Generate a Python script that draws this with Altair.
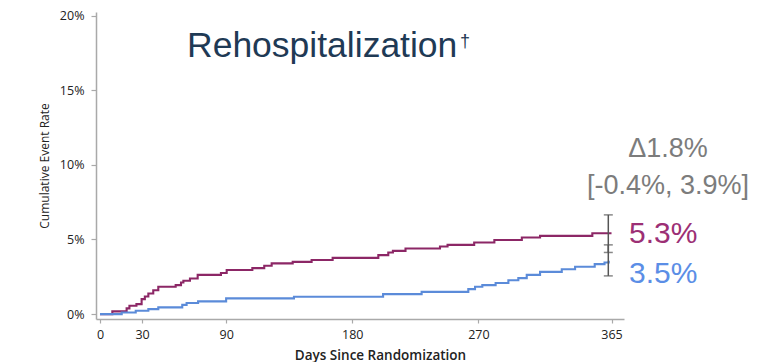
import altair as alt
import pandas as pd

# ---- data ----
purple_days = [0, 8.8, 19, 21, 26, 29.7, 32, 34.5, 38, 41.6, 54, 57.8, 59.5, 64.2, 69.7, 86.3,
               90.4, 108.7, 117.2, 122.5, 137.5, 151, 166, 198.6, 205.7, 209, 218, 242.6, 248,
               267, 281.4, 301, 314, 351.3, 365]
purple_rate = [0, 0.18, 0.38, 0.56, 0.67, 1.0, 1.18, 1.38, 1.6, 1.83, 1.94, 2.12, 2.23, 2.39, 2.63, 2.75,
               2.95, 3.08, 3.24, 3.40, 3.5, 3.63, 3.77, 3.95, 4.13, 4.24, 4.4, 4.53, 4.64,
               4.8, 4.97, 5.13, 5.24, 5.42, 5.42]

blue_days = [0, 15.5, 25.5, 34.5, 41.6, 58.7, 61.8, 70, 90, 138.4, 202, 229.5, 262.8, 267.6, 272.8,
             282.3, 291.4, 298.5, 304.5, 314, 329.5, 339, 353, 360, 363]
blue_rate = [0, 0.11, 0.22, 0.33, 0.45, 0.62, 0.74, 0.85, 1.05, 1.16, 1.34, 1.49, 1.67, 1.83, 1.94,
             2.08, 2.27, 2.41, 2.63, 2.83, 3.01, 3.17, 3.35, 3.46, 3.57]

ci_day = [362.7, 362.7]
ci_lo = [4.13, 2.56]
ci_hi = [6.65, 4.64]
ci_group = ["Purple", "Blue"]

end_labels = ["5.3%", "3.5%"]
end_values = [5.3, 3.5]
end_colors = ["#9c2f75", "#5b8ee6"]

x_ticks = [0, 30, 90, 180, 270, 365]
y_ticks = [0, 5, 10, 15, 20]

title_text = "Rehospitalization"
dagger_text = "\u2020"
delta_text = "\u03941.8%"
ci_text = "[-0.4%, 3.9%]"

# ---- frames ----
curves = pd.concat([
    pd.DataFrame({"day": purple_days, "rate": purple_rate, "arm": "Purple"}),
    pd.DataFrame({"day": blue_days, "rate": blue_rate, "arm": "Blue"}),
])
ci = pd.DataFrame({"day": ci_day, "lo": ci_lo, "hi": ci_hi, "arm": ci_group})
ends = pd.DataFrame({"day": [365, 365], "val": end_values, "label": end_labels, "color": end_colors})

W, H = 528, 307
xs = alt.Scale(domain=[-2.85, 373.9], nice=False, zero=False)
ys = alt.Scale(domain=[-0.33, 20.25], nice=False, zero=False)

AX = dict(domainColor="#a9a9a9", domainWidth=1.5, tickColor="#a9a9a9", tickWidth=1.2,
          labelFont="Open Sans", labelColor="#222222", labelFontSize=12.5, grid=False,
          titleFont="Open Sans", titleColor="#222222")

x_enc = alt.X("day:Q", scale=xs,
              axis=alt.Axis(values=x_ticks, title="Days Since Randomization", tickSize=4,
                            labelPadding=5, titleFontSize=13.5, titleFontWeight=600,
                            titleX=284, titleY=40, titleBaseline="alphabetic", **AX))

lines = alt.Chart(curves).mark_line(interpolate="step-after", strokeWidth=2.1).encode(
    x=x_enc,
    y=alt.Y("rate:Q", scale=ys,
            axis=alt.Axis(values=y_ticks, format=".0f", labelExpr="datum.value + '%'",
                          title="Cumulative Event Rate", tickSize=5, labelPadding=7,
                          titleFontSize=12, titleFontWeight="normal", titlePadding=8, **AX)),
    color=alt.Color("arm:N", scale=alt.Scale(domain=["Purple", "Blue"], range=["#8c2766", "#5b8bd9"]),
                    legend=None),
    detail="arm:N",
)

rules = alt.Chart(ci).mark_rule(color="#555555", strokeWidth=1.5).encode(
    x=alt.X("day:Q", scale=xs), y=alt.Y("lo:Q", scale=ys), y2="hi:Q")
caps_lo = alt.Chart(ci).mark_tick(color="#555555", orient="horizontal", size=9, thickness=1.5).encode(
    x=alt.X("day:Q", scale=xs), y=alt.Y("lo:Q", scale=ys))
caps_hi = alt.Chart(ci).mark_tick(color="#555555", orient="horizontal", size=9, thickness=1.5).encode(
    x=alt.X("day:Q", scale=xs), y=alt.Y("hi:Q", scale=ys))

end_purple = alt.Chart(ends.iloc[[0]]).mark_text(
    align="left", baseline="alphabetic", dx=17.5, dy=8, font="Liberation Sans", fontSize=30,
    color=end_colors[0]).encode(x=alt.X("day:Q", scale=xs), y=alt.Y("val:Q", scale=ys), text="label:N")
end_blue = alt.Chart(ends.iloc[[1]]).mark_text(
    align="left", baseline="alphabetic", dx=17.5, dy=21, font="Liberation Sans", fontSize=30,
    color=end_colors[1]).encode(x=alt.X("day:Q", scale=xs), y=alt.Y("val:Q", scale=ys), text="label:N")

base_txt = alt.Chart(pd.DataFrame({"t": [0]}))
title = base_txt.mark_text(align="left", baseline="alphabetic", font="Liberation Sans", fontSize=35.5,
                           color="#1f3a55").encode(x=alt.value(91), y=alt.value(45), text=alt.value(title_text))
dagger = base_txt.mark_text(align="left", baseline="alphabetic", font="Liberation Sans", fontSize=18,
                            color="#1f3a55").encode(x=alt.value(364), y=alt.value(35), text=alt.value(dagger_text))
delta = base_txt.mark_text(align="center", baseline="alphabetic", font="Liberation Sans", fontSize=27,
                           color="#7c7c7c").encode(x=alt.value(572), y=alt.value(145), text=alt.value(delta_text))
ci_t = base_txt.mark_text(align="center", baseline="alphabetic", font="Liberation Sans", fontSize=27,
                          color="#7c7c7c").encode(x=alt.value(572), y=alt.value(182), text=alt.value(ci_text))

chart = alt.layer(lines, rules, caps_lo, caps_hi, end_purple, end_blue, title, dagger, delta, ci_t).properties(
    width=W, height=H,
    autosize=alt.AutoSizeParams(type="none"),
    padding={"left": 88, "top": 4, "right": 140, "bottom": 43},
    background="white",
).configure_view(stroke=None)

chart.save("out.html", embed_options={"renderer": "svg", "actions": False})
